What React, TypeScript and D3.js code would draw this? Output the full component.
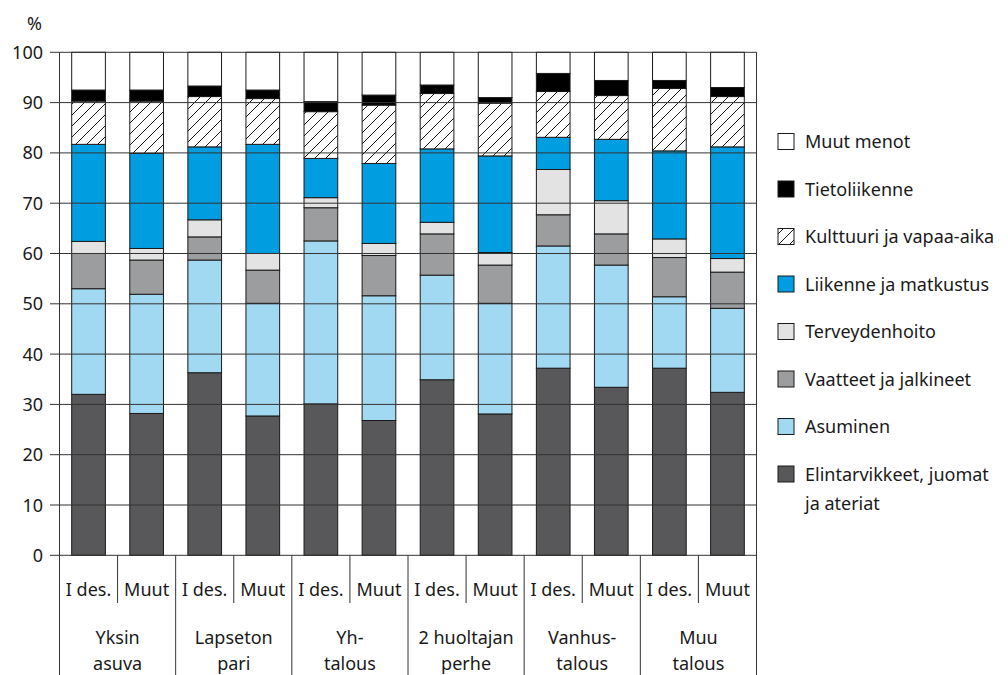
import * as d3 from "d3";
import React from "react";

// groups and sub-bars
const groupLabels = [
  ["Yksin", "asuva"],
  ["Lapseton", "pari"],
  ["Yh-", "talous"],
  ["2 huoltajan", "perhe"],
  ["Vanhus-", "talous"],
  ["Muu", "talous"],
];
const subgroups = ["I des.", "Muut"];

// shares (%) per bar, bottom to top, 12 bars = 6 groups x 2
const elintarvikkeet = [32.0, 28.2, 36.3, 27.7, 30.1, 26.8, 34.9, 28.1, 37.2, 33.4, 37.2, 32.4];
const asuminen = [21.0, 23.7, 22.4, 22.4, 32.4, 24.8, 20.8, 22.0, 24.3, 24.3, 14.2, 16.7];
const vaatteet = [7.0, 6.8, 4.6, 6.6, 6.6, 8.0, 8.2, 7.6, 6.2, 6.2, 7.8, 7.2];
const terveys = [2.4, 2.3, 3.4, 3.3, 2.0, 2.4, 2.3, 2.5, 9.0, 6.6, 3.7, 2.7];
const liikenne = [19.3, 18.9, 14.5, 21.7, 7.8, 15.9, 14.6, 19.2, 6.4, 12.2, 17.5, 22.2];
const kulttuuri = [8.6, 10.4, 10.0, 9.1, 9.3, 11.6, 11.0, 10.5, 9.1, 8.7, 12.4, 10.0];
const tietoliikenne = [2.2, 2.2, 2.1, 1.7, 2.0, 2.0, 1.7, 1.1, 3.6, 3.0, 1.6, 1.8];
const muutMenot = [7.5, 7.5, 6.7, 7.5, 9.8, 8.5, 6.5, 9.0, 4.2, 5.6, 5.6, 7.0];

const yTicks = [0, 10, 20, 30, 40, 50, 60, 70, 80, 90, 100];

const seriesKeys = ["elin", "asum", "vaat", "terv", "liik", "kult", "tieto", "muut"];
const seriesValues = [elintarvikkeet, asuminen, vaatteet, terveys, liikenne, kulttuuri, tietoliikenne, muutMenot];
const fills: Record<string, string> = {
  elin: "#58585a",
  asum: "#a2d9f2",
  vaat: "#9c9d9f",
  terv: "#e2e3e2",
  liik: "#009ee0",
  kult: "url(#hatch)",
  tieto: "#000000",
  muut: "#ffffff",
};

// legend, top to bottom
const legendItems = [
  { key: "muut", lines: ["Muut menot"] },
  { key: "tieto", lines: ["Tietoliikenne"] },
  { key: "kult", lines: ["Kulttuuri ja vapaa-aika"] },
  { key: "liik", lines: ["Liikenne ja matkustus"] },
  { key: "terv", lines: ["Terveydenhoito"] },
  { key: "vaat", lines: ["Vaatteet ja jalkineet"] },
  { key: "asum", lines: ["Asuminen"] },
  { key: "elin", lines: ["Elintarvikkeet, juomat", "ja ateriat"] },
];

const W = 1008;
const H = 675;
const font = "'Noto Sans', sans-serif";

const App: React.FC = () => {
  const left = 59.5;
  const right = 756.5;
  const top = 52.3;
  const bottom = 555.3;

  const groupIds = groupLabels.map((_, i) => String(i));
  const x0 = d3.scaleBand().domain(groupIds).range([left, right]);
  const x1 = d3
    .scaleBand()
    .domain(subgroups)
    .range([0, x0.bandwidth()])
    .paddingInner(0.42)
    .paddingOuter(0.21);
  const y = d3.scaleLinear().domain([0, 100]).range([bottom, top]);

  const rows = elintarvikkeet.map((_, i) => {
    const r: Record<string, number> = {};
    seriesKeys.forEach((k, j) => (r[k] = seriesValues[j][i]));
    return r;
  });
  const stacked = d3.stack<Record<string, number>>().keys(seriesKeys)(rows);

  const barX = (i: number) =>
    (x0(String(Math.floor(i / 2))) || 0) + (x1(subgroups[i % 2]) || 0);

  return (
    <svg
      width={W}
      height={H}
      style={{ position: "absolute", left: 0, top: 0, background: "#fff" }}
      fontFamily={font}
    >
      <defs>
        <pattern id="hatch" patternUnits="userSpaceOnUse" width={11} height={11}>
          <rect width={11} height={11} fill="#fff" />
          <path d="M-1,12 L12,-1 M-1,1 L1,-1 M10,12 L12,10" stroke="#000" strokeWidth={0.9} />
        </pattern>
      </defs>

      {/* bars */}
      {stacked.map((s) => (
        <g key={s.key} fill={fills[s.key]} stroke="#1a1a1a" strokeWidth={1}>
          {s.map((d, i) => (
            <rect
              key={i}
              x={barX(i)}
              y={y(d[1])}
              width={x1.bandwidth()}
              height={y(d[0]) - y(d[1])}
            />
          ))}
        </g>
      ))}

      {/* grid lines on top of bars */}
      <g stroke="#333" strokeWidth={1}>
        {yTicks.map((t) => (
          <line key={t} x1={50} x2={right} y1={y(t)} y2={y(t)} />
        ))}
        <line x1={left} x2={left} y1={top} y2={H} />
        <line x1={right} x2={right} y1={top} y2={H} />
        {groupIds.slice(1).map((g) => (
          <line key={g} x1={x0(g)} x2={x0(g)} y1={bottom} y2={H} />
        ))}
        {groupIds.map((g) => (
          <line
            key={"s" + g}
            x1={(x0(g) || 0) + x0.bandwidth() / 2}
            x2={(x0(g) || 0) + x0.bandwidth() / 2}
            y1={bottom}
            y2={603}
          />
        ))}
      </g>

      {/* y tick labels */}
      <g fontSize={18} fill="#1a1a1a" textAnchor="end">
        {yTicks.map((t) => (
          <text key={t} x={43} y={y(t) + 6.5}>
            {t}
          </text>
        ))}
        <text x={42} y={30}>
          %
        </text>
      </g>

      {/* x labels */}
      <g fontSize={18} fill="#1a1a1a" textAnchor="middle">
        {groupIds.map((g, gi) => (
          <g key={g}>
            {subgroups.map((s) => (
              <text key={s} x={(x0(g) || 0) + (x1(s) || 0) + x1.bandwidth() / 2} y={596}>
                {s}
              </text>
            ))}
            {groupLabels[gi].map((line, li) => (
              <text key={li} x={(x0(g) || 0) + x0.bandwidth() / 2} y={644 + li * 26}>
                {line}
              </text>
            ))}
          </g>
        ))}
      </g>

      {/* legend */}
      <g fontSize={18} fill="#1a1a1a">
        {legendItems.map((item, i) => {
          const cy = 141.5 + i * 47.5;
          return (
            <g key={item.key}>
              <rect
                x={778}
                y={cy - 8}
                width={16}
                height={16}
                fill={fills[item.key]}
                stroke="#1a1a1a"
                strokeWidth={1}
              />
              {item.lines.map((line, li) => (
                <text key={li} x={805} y={cy + 6.5 + li * 29}>
                  {line}
                </text>
              ))}
            </g>
          );
        })}
      </g>
    </svg>
  );
};

export default App;
